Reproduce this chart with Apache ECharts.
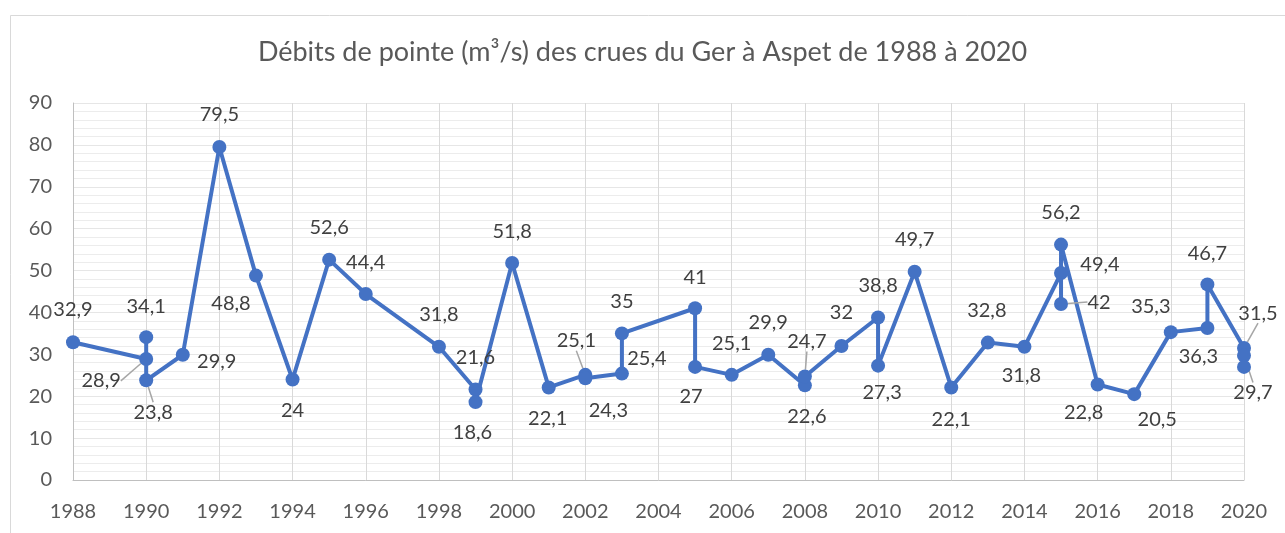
<!DOCTYPE html>
<html>
<head>
<meta charset="utf-8">
<script src="https://cdn.jsdelivr.net/npm/echarts@6/dist/echarts.min.js"></script>
<style>
  html, body { margin: 0; padding: 0; background: #fff; }
  #chart { width: 1285px; height: 533px; }
</style>
</head>
<body>
<div id="chart"></div>
<script>
// ---- data ----
const titleText = 'Débits de pointe (m³/s) des crues du Ger à Aspet de 1988 à 2020';
const years  = [1988, 1990, 1990, 1990, 1991, 1992, 1993, 1994, 1995, 1996, 1998, 1999, 1999, 2000, 2001, 2002, 2002, 2003, 2003, 2005, 2005, 2006, 2007, 2008, 2008, 2009, 2010, 2010, 2011, 2012, 2013, 2014, 2015, 2015, 2015, 2016, 2017, 2018, 2019, 2019, 2020, 2020, 2020];
const values = [32.9, 28.9, 34.1, 23.8, 29.9, 79.5, 48.8, 24, 52.6, 44.4, 31.8, 21.6, 18.6, 51.8, 22.1, 25.1, 24.3, 25.4, 35, 41, 27, 25.1, 29.9, 22.6, 24.7, 32, 38.8, 27.3, 49.7, 22.1, 32.8, 31.8, 49.4, 42, 56.2, 22.8, 20.5, 35.3, 36.3, 46.7, 31.5, 29.7, 27];
const showLabel = [1,1,1,1,1,1,1,1,1,1,1,1,1,1,1,1,1,1,1,1,1,1,1,1,1,1,1,1,1,1,1,1,1,1,1,1,1,1,1,1,1,1,0];
const xTicks = { min: 1988, max: 2020, interval: 2 };
const yTicks = { min: 0, max: 90, interval: 10 };

// ---- label placement (style only: offsets of label centre from its point, px) ----
const labelOffsets = [
  [0,-33], [-45,22], [0,-31], [7,32], [34,7], [0,-32], [-25,28], [0,31], [0,-32], [0,-31],
  [0,-32], [0,-32], [-3,30], [0,-31], [-1,31], [-9,-34], [23,32], [25,-15], [0,-32], [0,-31],
  [-4,30], [0,-31], [0,-32], [2,31], [2,-35], [0,-33], [0,-32], [4,27], [0,-32], [0,32],
  [-1,-32], [-3,29], [39,-9], [38,-2], [0,-32], [-14,28], [23,25], [-20,-26], [-9,29], [0,-31],
  [14,-35], [9,37], [0,0]
];
const leaderLines = [1, 3, 15, 24, 33, 40, 41];

const FONT = 'Lato, "Open Sans", sans-serif';

const seriesData = years.map((y, i) => ({
  value: [y, values[i]],
  label: { show: !!showLabel[i] },
  labelLine: { show: leaderLines.indexOf(i) >= 0 }
}));

const chart = echarts.init(document.getElementById('chart'), null, { renderer: 'canvas' });
chart.setOption({
  animation: false,
  backgroundColor: '#ffffff',
  graphic: [{
    type: 'rect',
    silent: true,
    z: -10,
    shape: { x: 10.5, y: 15.5, width: 1400, height: 700 },
    style: { fill: 'none', stroke: '#d9d9d9', lineWidth: 1 }
  }],
  title: {
    text: titleText,
    left: 'center',
    top: 34,
    textStyle: { fontFamily: FONT, fontSize: 27, fontWeight: 'normal', color: '#595959' }
  },
  grid: { left: 73, right: 41, top: 103, bottom: 53, containLabel: false },
  xAxis: {
    type: 'value',
    min: xTicks.min, max: xTicks.max, interval: xTicks.interval,
    axisLine: { show: true, lineStyle: { color: '#bfbfbf', width: 1 } },
    axisTick: { show: false },
    axisLabel: { margin: 22, fontFamily: FONT, fontSize: 20, color: '#595959', formatter: v => String(v) },
    splitLine: { show: true, lineStyle: { color: '#d9d9d9', width: 1 } }
  },
  yAxis: {
    type: 'value',
    min: yTicks.min, max: yTicks.max, interval: yTicks.interval,
    axisLine: { show: true, lineStyle: { color: '#bfbfbf', width: 1 } },
    axisTick: { show: false },
    axisLabel: { margin: 21, fontFamily: FONT, fontSize: 20, color: '#595959' },
    splitLine: { show: true, lineStyle: { color: '#e6e6e6', width: 1 } },
    minorTick: { show: false, splitNumber: 5 },
    minorSplitLine: { show: true, lineStyle: { color: '#ececec', width: 1 } }
  },
  series: [{
    type: 'line',
    data: seriesData,
    symbol: 'circle',
    symbolSize: 14,
    showAllSymbol: true,
    lineStyle: { color: '#4472c4', width: 4 },
    itemStyle: { color: '#4472c4' },
    label: {
      show: true,
      position: 'inside',
      color: '#404040',
      fontFamily: FONT,
      fontSize: 20,
      formatter: p => String(p.value[1]).replace('.', ',')
    },
    labelLine: { show: false, lineStyle: { color: '#a6a6a6', width: 1.5 } },
    labelLayout: function (params) {
      const o = labelOffsets[params.dataIndex] || [0, 0];
      return { dx: o[0], dy: o[1] };
    }
  }]
});
</script>
</body>
</html>
